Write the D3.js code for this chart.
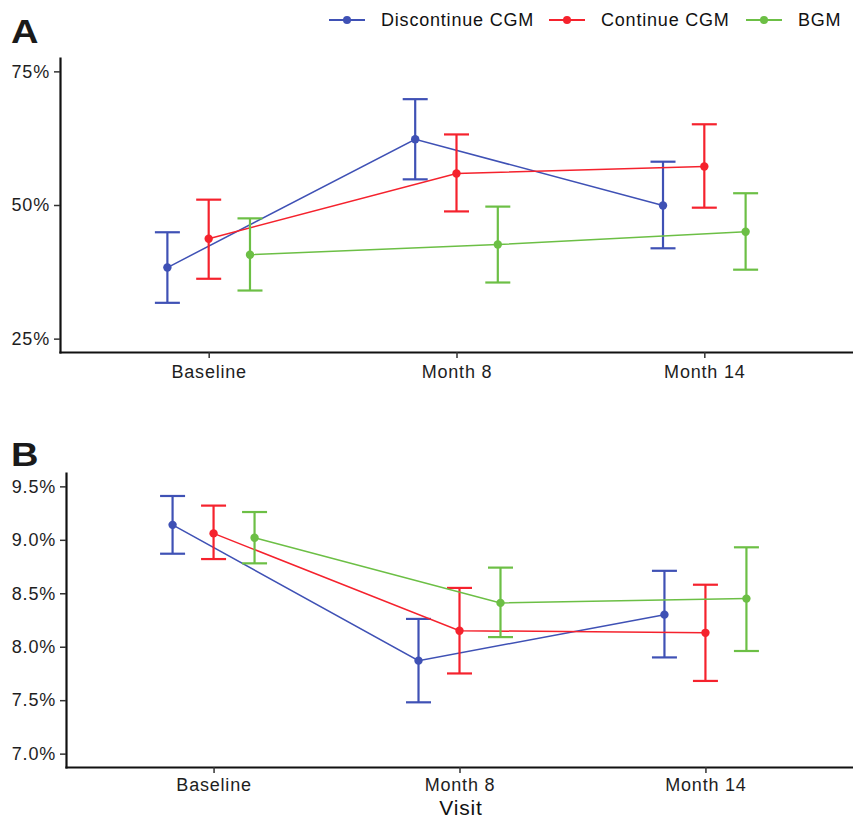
<!DOCTYPE html>
<html>
<head>
<meta charset="utf-8">
<script src="https://cdn.jsdelivr.net/npm/d3@7"></script>
<style>
  body { margin: 0; background: #fff; }
  svg { font-family: "Liberation Sans", Arial, sans-serif; }
</style>
</head>
<body>
<div id="chart"></div>
<script>
const width = 853;
const height = 820;

// visits and groups
const visits = ["Baseline", "Month 8", "Month 14"];
const groups = ["Discontinue CGM", "Continue CGM", "BGM"];
const colors = ["#3F51B5", "#F5222D", "#6CBF45"];

// panel A: percent (mean, lower, upper) per group, per visit
const aMean = [[38.3, 62.3, 49.9], [43.7, 55.9, 57.2], [40.7, 42.6, 45.0]];
const aLow  = [[31.7, 54.8, 41.9], [36.2, 48.8, 49.5], [34.0, 35.5, 37.9]];
const aHigh = [[44.9, 69.8, 58.1], [51.0, 63.2, 65.1], [47.5, 49.7, 52.2]];
const aTicks = [25, 50, 75];

// panel B: HbA1c %
const bMean = [[9.14, 7.87, 8.30], [9.06, 8.15, 8.13], [9.02, 8.41, 8.45]];
const bLow  = [[8.87, 7.48, 7.90], [8.82, 7.75, 7.68], [8.78, 8.09, 7.96]];
const bHigh = [[9.41, 8.26, 8.71], [9.32, 8.55, 8.58], [9.26, 8.74, 8.93]];
const bTicks = [7.0, 7.5, 8.0, 8.5, 9.0, 9.5];

const dodge = 0.5;

const svg = d3.select("#chart").append("svg")
    .attr("width", width)
    .attr("height", height);

function panel(cfg) {
    const x = d3.scaleLinear().domain([0.4, 3.6]).range([cfg.left, width]);
    const y = d3.scaleLinear().domain(cfg.domain).range([cfg.bottom, cfg.top]);
    const g = svg.append("g");

    const off = i => (i - 1) * dodge / 3;

    groups.forEach((grp, gi) => {
        const pts = visits.map((v, vi) => ({
            x: vi + 1 + off(gi),
            m: cfg.mean[gi][vi], lo: cfg.low[gi][vi], hi: cfg.high[gi][vi]
        }));
        const line = d3.line().x(d => x(d.x)).y(d => y(d.m));
        g.append("path")
            .attr("d", line(pts))
            .attr("fill", "none")
            .attr("stroke", colors[gi])
            .attr("stroke-width", 1.5);
        const eb = g.selectAll(null).data(pts).join("g").attr("stroke", colors[gi]).attr("stroke-width", 2.2);
        eb.append("line")
            .attr("x1", d => x(d.x)).attr("x2", d => x(d.x))
            .attr("y1", d => y(d.lo)).attr("y2", d => y(d.hi));
        eb.append("line")
            .attr("x1", d => x(d.x) - 12.5).attr("x2", d => x(d.x) + 12.5)
            .attr("y1", d => y(d.lo)).attr("y2", d => y(d.lo));
        eb.append("line")
            .attr("x1", d => x(d.x) - 12.5).attr("x2", d => x(d.x) + 12.5)
            .attr("y1", d => y(d.hi)).attr("y2", d => y(d.hi));
        g.selectAll(null).data(pts).join("circle")
            .attr("cx", d => x(d.x)).attr("cy", d => y(d.m))
            .attr("r", 4.2)
            .attr("fill", colors[gi]);
    });

    const xAxis = g.append("g")
        .attr("transform", `translate(0,${cfg.bottom})`)
        .call(d3.axisBottom(x).tickValues([1, 2, 3]).tickFormat(d => visits[d - 1]).tickSize(6).tickSizeOuter(0).tickPadding(cfg.xPad));
    const yAxis = g.append("g")
        .attr("transform", `translate(${cfg.left},0)`)
        .call(d3.axisLeft(y).tickValues(cfg.ticks).tickFormat(cfg.fmt).tickSize(6).tickSizeOuter(0).tickPadding(4));
    [xAxis, yAxis].forEach(a => {
        a.select(".domain").attr("stroke", "#111").attr("stroke-width", 2.2).attr("stroke-linecap", "square");
        a.selectAll(".tick line").attr("stroke", "#333").attr("stroke-width", 1.5);
        a.selectAll(".tick text").attr("fill", "#1e1e1e")
            .style("font-size", "18px").style("letter-spacing", "0.8px");
    });

    svg.append("text")
        .attr("transform", `translate(11,${cfg.labelY}) scale(1.12,1)`)
        .attr("font-size", 34).attr("font-weight", "bold").attr("fill", "#1a1a1a")
        .text(cfg.label);
}

panel({ label: "A", labelY: 43, left: 60, top: 58, bottom: 352, domain: [22.5, 77.5], xPad: 7,
        mean: aMean, low: aLow, high: aHigh, ticks: aTicks, fmt: d => d + "%" });
panel({ label: "B", labelY: 466, left: 66, top: 473, bottom: 767, domain: [6.875, 9.625], xPad: 5,
        mean: bMean, low: bLow, high: bHigh, ticks: bTicks, fmt: d => d.toFixed(1) + "%" });

// x axis title
svg.append("text")
    .attr("x", 461).attr("y", 815)
    .attr("text-anchor", "middle")
    .attr("font-size", 21).attr("fill", "#111")
    .style("letter-spacing", "0.8px")
    .text("Visit");

// legend
const legendX = [329, 549, 746];
const leg = svg.append("g").selectAll("g").data(groups).join("g")
    .attr("transform", (d, i) => `translate(${legendX[i]},20)`);
leg.append("line").attr("x1", 0).attr("x2", 36).attr("stroke", (d, i) => colors[i]).attr("stroke-width", 2);
leg.append("circle").attr("cx", 18).attr("r", 4).attr("fill", (d, i) => colors[i]);
leg.append("text").attr("x", 52).attr("dy", "0.35em")
    .attr("font-size", 18).attr("fill", "#111").style("letter-spacing", "0.8px")
    .text(d => d);
</script>
</body>
</html>
